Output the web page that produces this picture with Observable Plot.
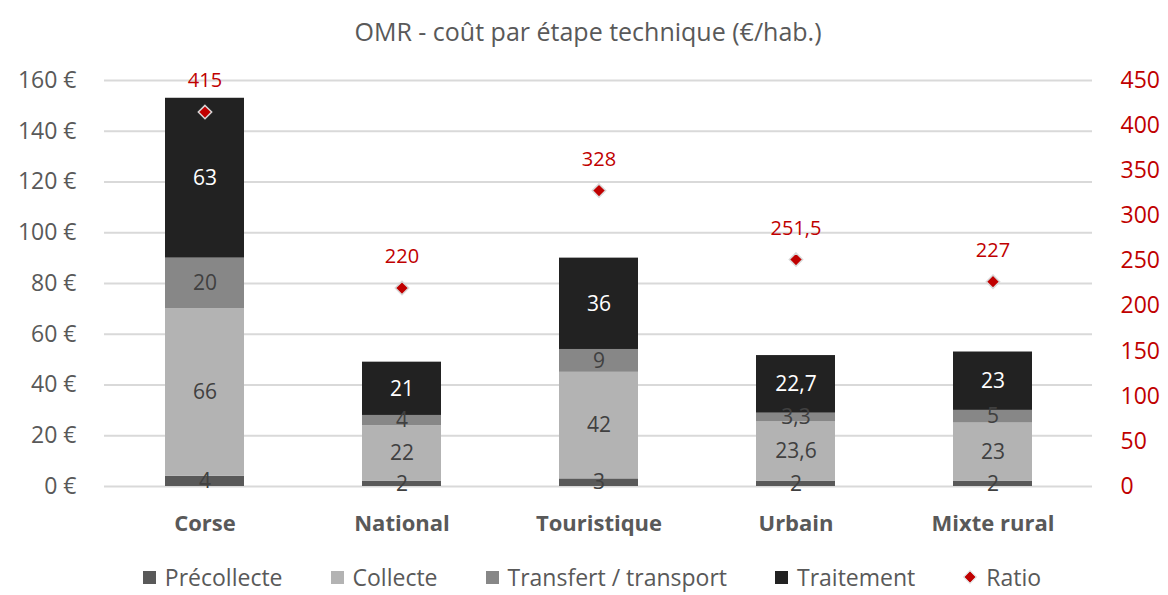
<!DOCTYPE html>
<html>
<head>
<meta charset="utf-8">
<script src="https://cdn.jsdelivr.net/npm/d3@7"></script>
<script src="https://cdn.jsdelivr.net/npm/@observablehq/plot@0.6"></script>
<style>
  html, body { margin: 0; padding: 0; background: #fff; }
  body { width: 1168px; height: 595px; overflow: hidden; font-family: "Open Sans", Lato, sans-serif; }
  #title { height: 60px; line-height: 62px; text-align: center; font-size: 25px; color: #595959; padding-left: 8px; }
  #legend { display: flex; justify-content: center; align-items: center; gap: 48px; height: 34px; font-size: 23px; line-height: 28px; color: #595959; padding-left: 16px; }
  .item { display: flex; align-items: center; gap: 9px; }
  .sw { width: 13px; height: 13px; display: inline-block; }
  .dia { width: 8px; height: 8px; background: #c00000; transform: rotate(45deg); display: inline-block; margin: 0 3px; outline: 1px solid #d9d9d9; }
</style>
</head>
<body>
<div id="title">OMR - coût par étape technique (€/hab.)</div>
<div id="chart"></div>
<div id="legend"></div>
<script>
const categories = ["Corse", "National", "Touristique", "Urbain", "Mixte rural"];
const seriesNames = ["Précollecte", "Collecte", "Transfert / transport", "Traitement"];
const precollecte = [4, 2, 3, 2, 2];
const collecte = [66, 22, 42, 23.6, 23];
const transfert = [20, 4, 9, 3.3, 5];
const traitement = [63, 21, 36, 22.7, 23];
const ratio = [415, 220, 328, 251.5, 227];
const leftTicks = [0, 20, 40, 60, 80, 100, 120, 140, 160];
const rightTicks = [0, 50, 100, 150, 200, 250, 300, 350, 400, 450];
const seriesColors = ["#595959", "#b3b3b3", "#878787", "#222222"];
const ratioColor = "#c00000";

const LEFT_MAX = 160, RIGHT_MAX = 450;
const toLeft = v => v * LEFT_MAX / RIGHT_MAX;
const fmt = v => String(v).replace(".", ",");

const seriesValues = [precollecte, collecte, transfert, traitement];
const rows = [];
seriesNames.forEach((s, si) => {
  categories.forEach((c, ci) => {
    rows.push({category: c, series: s, value: seriesValues[si][ci]});
  });
});
const ratioRows = categories.map((c, i) => ({category: c, ratio: ratio[i]}));

const stackOpts = {x: "category", y: "value", z: "series", order: null};
const FONT = "'Open Sans', Lato, sans-serif";

const chart = Plot.plot({
  width: 1168,
  height: 500,
  marginTop: 20,
  marginBottom: 74,
  marginLeft: 104,
  marginRight: 76,
  style: {fontFamily: FONT, fontSize: "23px", color: "#595959", background: "#fff"},
  x: {domain: categories, paddingInner: 0.6, paddingOuter: 0.3, label: null},
  y: {domain: [0, LEFT_MAX], label: null},
  color: {domain: seriesNames, range: seriesColors},
  marks: [
    Plot.gridY(leftTicks, {stroke: "#d9d9d9", strokeOpacity: 1, strokeWidth: 2}),
    Plot.axisY({ticks: leftTicks, tickSize: 0, tickPadding: 28, tickFormat: d => d + " €", fill: "#595959", fontSize: 23, label: null}),
    Plot.axisY({anchor: "right", ticks: rightTicks.map(toLeft), tickSize: 0, tickPadding: 28,
      tickFormat: d => String(Math.round(d * RIGHT_MAX / LEFT_MAX)), fill: ratioColor, fontSize: 23, label: null}),
    Plot.axisX({tickSize: 0, tickPadding: 29, fontWeight: "bold", fill: "#595959", fontSize: 22, label: null}),
    Plot.barY(rows, Plot.stackY({...stackOpts, fill: "series"})),
    Plot.text(rows, Plot.stackY({...stackOpts, text: d => d.series !== "Traitement" ? fmt(d.value) : "", fill: "#404040", fontSize: 21})),
    Plot.text(rows, Plot.stackY({...stackOpts, text: d => d.series === "Traitement" ? fmt(d.value) : "", fill: "#ffffff", fontSize: 21})),
    Plot.dot(ratioRows, {x: "category", y: d => toLeft(d.ratio), symbol: "diamond2", r: 6, fill: ratioColor, stroke: "#d9d9d9", strokeWidth: 1.5}),
    Plot.text(ratioRows, {x: "category", y: d => toLeft(d.ratio), text: d => fmt(d.ratio), dy: -31, fill: ratioColor, fontSize: 20})
  ]
});
document.getElementById("chart").appendChild(chart);

const legend = document.getElementById("legend");
seriesNames.forEach((s, i) => {
  const it = document.createElement("div");
  it.className = "item";
  it.innerHTML = `<span class="sw" style="background:${seriesColors[i]}"></span><span>${s}</span>`;
  legend.appendChild(it);
});
const r = document.createElement("div");
r.className = "item";
r.innerHTML = `<span class="dia"></span><span>Ratio</span>`;
legend.appendChild(r);
</script>
</body>
</html>
